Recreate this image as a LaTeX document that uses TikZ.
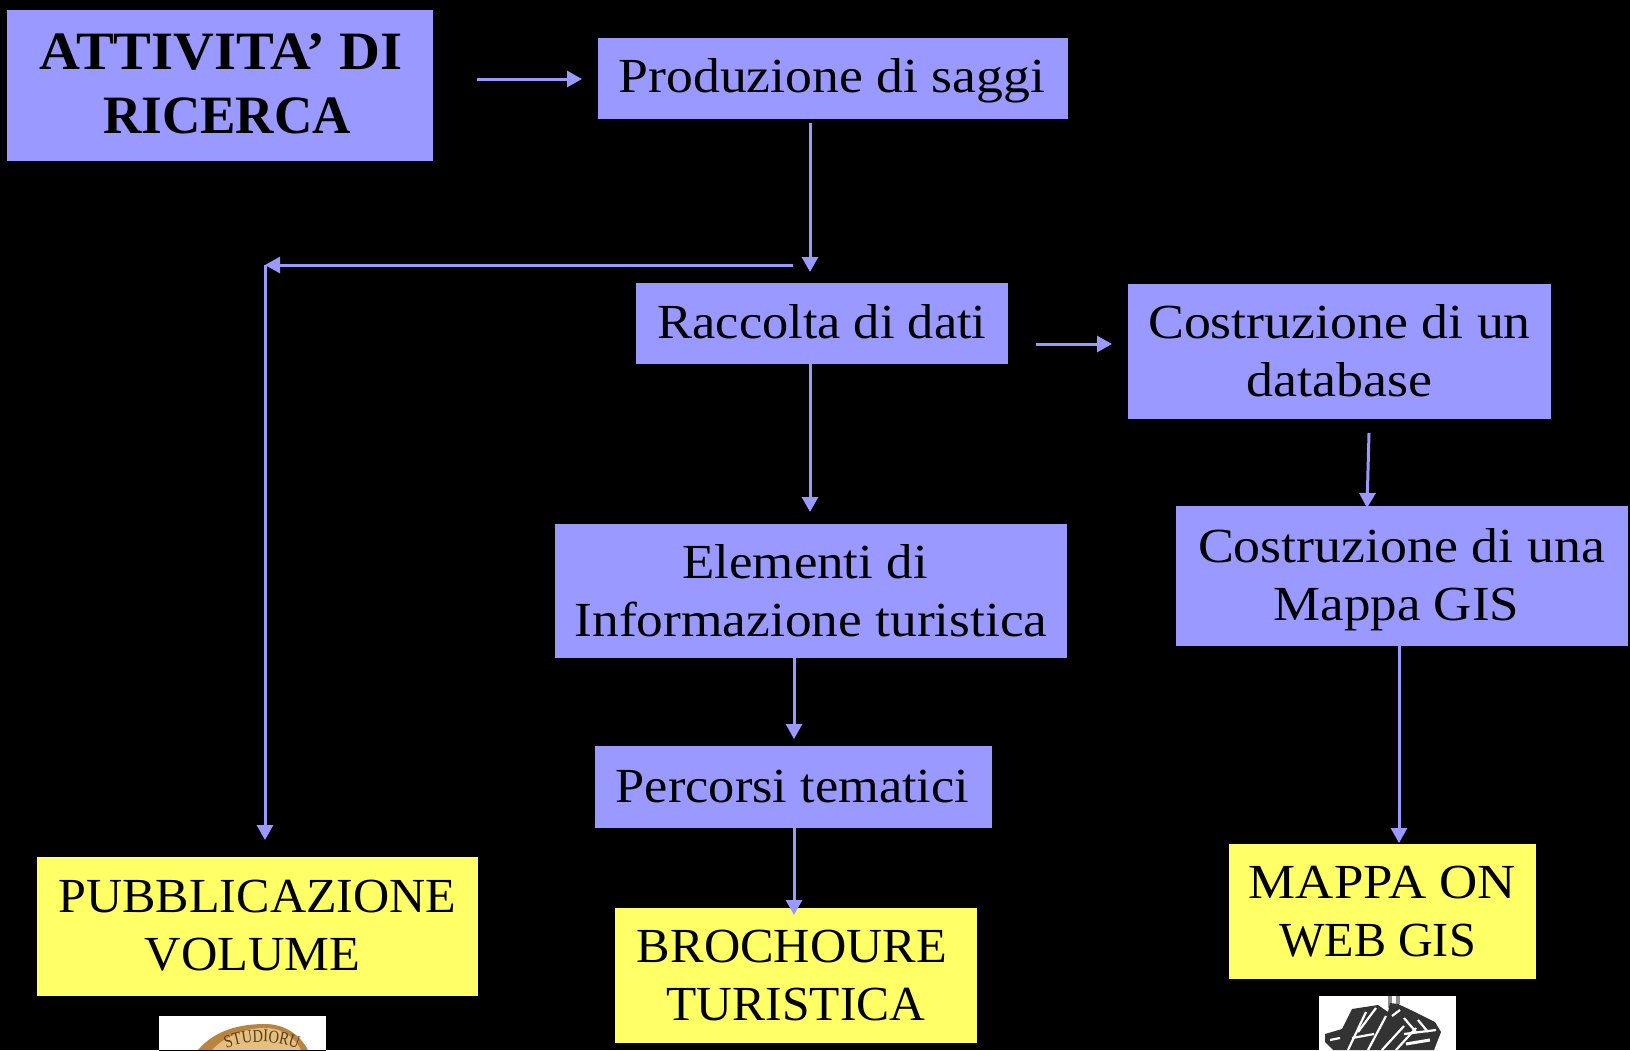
\documentclass[tikz,border=0pt]{standalone}
\usepackage{graphicx}
\usepackage{fontspec}
\setmainfont[FakeStretch=1.08]{Liberation Serif}
\newfontfamily\coinfont[FakeStretch=0.8]{Liberation Serif}
\usetikzlibrary{arrows.meta,decorations.text}
\definecolor{boxblue}{HTML}{9999FF}
\definecolor{boxyellow}{HTML}{FFFF66}
\definecolor{coinrim}{HTML}{B8843F}
\definecolor{coinface}{HTML}{E3BF80}
\definecolor{coinink}{HTML}{5A3A18}
\newcommand\linefit[3]{\hspace*{#1pt}\scalebox{#2}[1]{#3}}
\tikzset{
  x=1pt,y=-1pt,
  base/.style={inner sep=0pt,align=center,text=black,font=\fontsize{49}{58}\selectfont,anchor=center},
  headfont/.style={font=\fontsize{54}{64}\selectfont\bfseries},
  blue/.style={base,fill=boxblue},
  yellow/.style={base,fill=boxyellow},
  lead/.style={draw=boxblue,line width=3pt,-{Triangle[length=15pt,width=16pt]}},
  mapcut/.style={draw=white,line width=2.2pt},
}
\begin{document}
\begin{tikzpicture}
\useasboundingbox (0,0) rectangle (1630,1050);
\fill[black] (0,0) rectangle (1630,1050);
% boxes
\node[blue,minimum width=426pt,minimum height=151pt,
  label={[base,headfont,yshift=2pt]center:{\linefit{2}{0.97}{ATTIVITA’ DI}\\\linefit{14}{0.91}{RICERCA}}}] (ricerca) at (220,85.5) {};
\node[blue,minimum width=470pt,minimum height=81pt,
  label={[base,yshift=-3pt]center:{\linefit{-2}{1.015}{Produzione di saggi}}}] (saggi) at (833,78) {};
\node[blue,minimum width=372pt,minimum height=81pt,
  label={[base,yshift=2pt]center:{\linefit{0}{0.99}{Raccolta di dati}}}] (dati) at (822,323.5) {};
\node[blue,minimum width=423pt,minimum height=135pt,
  label={[base,yshift=1pt]center:{\linefit{0}{1.017}{Costruzione di un}\\\linefit{0}{1.02}{database}}}] (database) at (1339.5,351.5) {};
\node[blue,minimum width=512pt,minimum height=134pt] (elementi) at (811,591) {\linefit{-12}{1}{Elementi di}\\\linefit{0}{1.009}{Informazione turistica}};
\node[blue,minimum width=452pt,minimum height=140pt,
  label={[base,yshift=-4pt]center:{\linefit{-1}{1.018}{Costruzione di una}\\\linefit{-11}{1}{Mappa GIS}}}] (gis) at (1402,576) {};
\node[blue,minimum width=397pt,minimum height=82pt] (percorsi) at (793.5,787) {\linefit{-2}{0.99}{Percorsi tematici}};
\node[yellow,minimum width=441pt,minimum height=139pt,
  label={[base,yshift=1pt]center:{\linefit{0}{0.947}{PUBBLICAZIONE}\\\linefit{-10}{0.953}{VOLUME}}}] (volume) at (257.5,926.5) {};
\node[yellow,minimum width=362pt,minimum height=135pt] (brochoure) at (796,975.5) {\linefit{-8}{0.95}{BROCHOURE}\\\linefit{0}{0.936}{TURISTICA}};
\node[yellow,minimum width=307pt,minimum height=135pt] (webgis) at (1382.5,911.5) {\linefit{0}{1}{MAPPA ON}\\\linefit{-10}{0.91}{WEB GIS}};
% connector ends
\coordinate (a1s) at (477,79);
\coordinate (a1e) at (582,79);
\coordinate (a3s) at (793,265);
\coordinate (a3c) at (265,265);
\coordinate (a3e) at (265,840);
\coordinate (a4s) at (1036,344);
\coordinate (a4e) at (1112,344);
\coordinate (a6s) at (1369,433);
\coordinate (a6e) at (1367,508);
% connectors
\draw[lead] (a1s) -- (a1e);
\draw[lead] (saggi.south -| 810,0) ++(0,4) -- (810,272);
\draw[lead] (a3s) -- (a3c);
\draw[lead] (a3c) -- (a3e);
\draw[lead] (a4s) -- (a4e);
\draw[lead] (dati.south -| 810,0) -- (810,512);
\draw[lead] (a6s) -- (a6e);
\draw[lead] (elementi.south -| 794,0) -- (794,739);
\draw[lead] (percorsi.south -| 794,0) -- (794,915);
\draw[lead] (gis.south -| 1399,0) -- (1399,843);
% coin picture
\begin{scope}
\fill[white] (159,1016) rectangle (326,1050);
\clip (159,1016) rectangle (326,1060);
\fill[coinrim] (198,1050) .. controls (215,1030) and (240,1024) .. (265,1024) .. controls (285,1024) and (300,1035) .. (308,1050) -- cycle;
\fill[coinface] (212,1050) .. controls (225,1036) and (245,1028) .. (265,1028) .. controls (283,1028) and (295,1038) .. (301,1050) -- cycle;
\path[decorate,decoration={text along path,text align=center,
  text={|\coinfont\fontsize{18}{18}\selectfont\color{coinink}|STUDIORU}}]
  (212,1055.4) arc[start angle=240,end angle=300,radius=100];
\end{scope}
\fill[black] (159,1050) rectangle (326,1060);
% map picture
\begin{scope}
\fill[white] (1319,996) rectangle (1456,1050);
\clip (1319,996) rectangle (1456,1050);
\fill[black!45] (1388,996) rectangle (1392,1008);
\fill[black!45] (1396,996) rectangle (1400,1004);
\fill[black!80] (1325,1034) -- (1342,1029) -- (1352,1009) -- (1378,1005) -- (1388,1012) -- (1390,1003) -- (1398,1004) -- (1415,1012) -- (1435,1022) -- (1441,1032) -- (1434,1050) -- (1333,1050) -- (1325,1042) -- cycle;
\draw[mapcut] (1330,1040) -- (1340,1038);
\draw[mapcut] (1348,1050) -- (1366,1012);
\draw[mapcut] (1358,1032) -- (1376,1008);
\draw[mapcut] (1368,1050) -- (1386,1016);
\draw[mapcut] (1382,1050) -- (1404,1026);
\draw[mapcut] (1396,1050) -- (1416,1028);
\draw[mapcut] (1392,1016) -- (1400,1010);
\draw[mapcut] (1404,1018) -- (1416,1032);
\draw[mapcut] (1418,1020) -- (1428,1032);
\draw[mapcut] (1404,1034) -- (1436,1030);
\draw[mapcut] (1352,1038) -- (1374,1034);
\draw[line width=3pt,draw=white] (1406,1044) -- (1430,1040);
\end{scope}
\end{tikzpicture}
\end{document}
